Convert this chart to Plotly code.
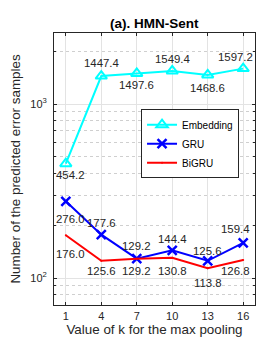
import math
import plotly.graph_objects as go

k_values = [1, 4, 7, 10, 13, 16]
embedding = [454.2, 1447.4, 1497.6, 1549.4, 1468.6, 1597.2]
gru = [276.0, 177.6, 129.2, 144.4, 125.6, 159.4]
bigru = [176.0, 125.6, 129.2, 130.8, 113.8, 126.8]

# label offsets (px) for value labels
emb_shift = [-11, 13, -12, 12, -13, 12]
gru_shift = [-18, 12, 13, 11, 10, 14]
bigru_shift = [-19, -10, -12, -13, -15, -11]
x_shift = [5, 0, 0, 0, 0, -8]

FONT = "Liberation Sans, Arial, Helvetica, sans-serif"
AX = "#262626"

fig = go.Figure()
fig.add_trace(go.Scatter(x=k_values, y=embedding, name="Embedding", mode="lines+markers",
                         line=dict(color="#00FFFF", width=2),
                         marker=dict(symbol="triangle-up-open", size=10, color="#00FFFF",
                                     line=dict(width=2, color="#00FFFF"))))
fig.add_trace(go.Scatter(x=k_values, y=gru, name="GRU", mode="lines+markers",
                         line=dict(color="#0000FF", width=2),
                         marker=dict(symbol="x-thin-open", size=9, color="#0000FF",
                                     line=dict(width=2.5, color="#0000FF"))))
fig.add_trace(go.Scatter(x=k_values, y=bigru, name="BiGRU", mode="lines+markers",
                         line=dict(color="#FF0000", width=2),
                         marker=dict(symbol="circle", size=2, color="#FF0000")))

ann = []
for series, shifts in ((embedding, emb_shift), (gru, gru_shift), (bigru, bigru_shift)):
    for x, v, s, xs in zip(k_values, series, shifts, x_shift):
        ann.append(dict(x=x, y=math.log10(v), yref="y", xref="x", text=f"{v:.1f}", showarrow=False,
                        yshift=s, xshift=xs, font=dict(size=11.4, color="#262626", family=FONT)))

minor_vals = [70, 80, 90, 200, 300, 400, 500, 600, 700, 800, 900, 2000]

fig.update_layout(
    width=273, height=337,
    margin=dict(l=46, r=26, t=25, b=40),
    paper_bgcolor="white", plot_bgcolor="white",
    font=dict(family=FONT, size=11, color=AX),
    title=dict(text="<b>(a). HMN-Sent</b>", x=0.536, xanchor="center", y=0.955, yanchor="middle",
               font=dict(size=13.5, color="black", family=FONT), automargin=False),
    showlegend=True,
    legend=dict(x=0.433, y=0.72, xanchor="left", yanchor="top",
                bgcolor="white", bordercolor=AX, borderwidth=1,
                font=dict(size=10, color="black", family=FONT),
                tracegroupgap=0, itemwidth=30),
    annotations=ann,
)
fig.update_xaxes(range=[0, 17], tickvals=k_values, ticks="inside", ticklen=3, tickcolor=AX,
                 showline=True, linecolor=AX, linewidth=1, mirror="ticks", automargin=False,
                 showgrid=True, gridcolor="#e3e3e3", gridwidth=1, zeroline=False,
                 ticklabelstandoff=1,
                 title=dict(text="Value of k for the max pooling", font=dict(size=13.4, color=AX), standoff=1),
                 tickfont=dict(size=11, color=AX))
fig.update_yaxes(type="log", range=[1.845, 3.408], tickvals=[100, 1000],
                 ticktext=["10<sup>2</sup>", "10<sup>3</sup>"], ticks="inside", ticklen=3, tickcolor=AX,
                 showline=True, linecolor=AX, linewidth=1, mirror="ticks", automargin=False,
                 showgrid=True, gridcolor="#e3e3e3", gridwidth=1, zeroline=False,
                 ticklabelstandoff=4,
                 minor=dict(tickvals=minor_vals, showgrid=True, gridcolor="#cfcfcf", griddash="dot",
                            ticks="inside", ticklen=2, tickcolor=AX),
                 title=dict(text="Number of the predicted error samples", font=dict(size=13.4, color=AX), standoff=12),
                 tickfont=dict(size=11, color=AX))

fig.write_html("out.html")
